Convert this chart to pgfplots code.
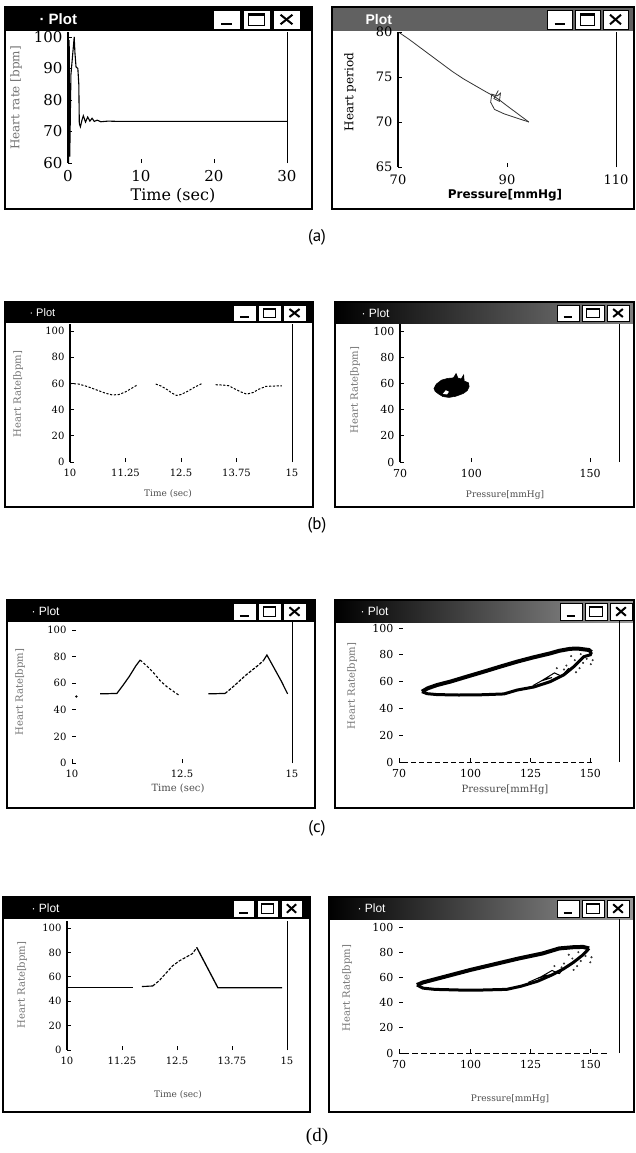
\documentclass[border=0pt]{standalone}
\usepackage{fontspec}
\setmainfont{DejaVu Serif}
\newfontfamily\winfont{Liberation Sans}
\newfontfamily\capfont{PT Sans}
\newfontfamily\dsans{DejaVu Sans}
\newfontfamily\tserif{Liberation Serif}
\usepackage{pgfplots}
\pgfplotsset{compat=1.18}

\newcommand\fs[1]{\fontsize{#1}{#1}\selectfont}

\pgfplotsset{
  win/.style={scale only axis, clip=false, axis line style={draw=none},
    anchor=south west, tick align=inside, xtick pos=bottom, ytick pos=left,
    tick style={black, line width=0.7pt}, major tick length=4pt,
    xticklabel style={yshift=-4pt}, yticklabel style={xshift=-2pt},
    enlargelimits=false},
}

% window frame: x1 y1 x2 y2 title-bottom title-fill
\newcommand\win[6]{%
  \fill[white] (#1,#2) rectangle (#3,#4);
  \fill[#6] (#1,#2) rectangle (#3,#5);
  \draw[line width=1.2pt] (#1,#2) rectangle (#3,#4);
  \draw[line width=2.6pt] (#1,#4) -- (#3,#4);
}
% title buttons: x y w h gap
\newcommand\btns[5]{%
  \foreach \k in {0,1,2}{\fill[white,draw=black,line width=0.6pt] ({#1+\k*(#3+#5)},#2) rectangle ++(#3,#4);}
  \draw[line width=1.8pt] ({#1+0.3*#3},{#2+0.75*#4}) -- ({#1+0.7*#3},{#2+0.75*#4});
  \draw[line width=0.9pt] ({#1+#3+#5+0.22*#3},{#2+0.2*#4}) rectangle ({#1+#3+#5+0.78*#3},{#2+0.8*#4});
  \draw[line width=2pt] ({#1+#3+#5+0.22*#3},{#2+0.25*#4}) -- ({#1+#3+#5+0.78*#3},{#2+0.25*#4});
  \draw[line width=2pt] ({#1+2*(#3+#5)+0.28*#3},{#2+0.25*#4}) -- ({#1+2*(#3+#5)+0.72*#3},{#2+0.75*#4});
  \draw[line width=2pt] ({#1+2*(#3+#5)+0.28*#3},{#2+0.75*#4}) -- ({#1+2*(#3+#5)+0.72*#3},{#2+0.25*#4});
}

\begin{document}
\begin{tikzpicture}[x=1pt,y=-1pt]
\path (0,0) rectangle (634,1153);

% ---------------- windows ----------------
\win{5}{7}{312}{209}{31}{black}
\btns{213}{10}{27}{19}{3}
\node[anchor=west,text=white,font=\winfont\bfseries\fs{15}] at (36,19) {· Plot};
\win{332}{7}{634}{209}{31}{black!62}
\btns{547}{10}{25}{19}{3}
\node[anchor=west,text=white,font=\winfont\bfseries\fs{14}] at (362,19) {Plot};

\win{5}{302}{313}{507}{323}{black}
\btns{233}{305}{23}{16}{2}
\node[anchor=west,text=white,font=\winfont\fs{11}] at (26,313) {· Plot};
\win{335}{302}{634}{507}{323}{left color=black,right color=black!50}
\btns{557}{305}{22}{16}{3}
\node[anchor=west,text=white,font=\winfont\fs{12}] at (358,313) {· Plot};

\win{7}{600}{315}{808}{622}{black}
\btns{233}{603}{23}{17}{2}
\node[anchor=west,text=white,font=\winfont\fs{12}] at (28,611) {· Plot};
\win{335}{600}{634}{808}{622}{left color=black,right color=black!40}
\btns{560}{603}{22}{17}{3}
\node[anchor=west,text=white,font=\winfont\fs{12}] at (357,611) {· Plot};

\win{3}{897}{310}{1112}{919}{black}
\btns{233}{900}{21}{17}{3}
\node[anchor=west,text=white,font=\winfont\fs{12}] at (28,908) {· Plot};
\win{329}{897}{634}{1112}{919}{left color=black,right color=black!40}
\btns{557}{900}{22}{17}{3}
\node[anchor=west,text=white,font=\winfont\fs{12}] at (354,908) {· Plot};

% ---------------- (a) left ----------------
\begin{axis}[win, at={(68pt,-163pt)}, width=219pt, height=126pt,
  xmin=0, xmax=30, ymin=60, ymax=100,
  xtick={0,10,20,30}, xticklabels={0,10,20,30},
  ytick={60,70,80,90,100}, yticklabels={60,70,80,90,100},
  tick label style={font=\fs{15}}]
  \draw[line width=2pt] (rel axis cs:0,0) -- (rel axis cs:0,1.04);
  \draw[line width=0.8pt] (rel axis cs:1,0) -- (rel axis cs:1,1.04);
  \addplot[black, line width=1.1pt] coordinates {
    (0,100) (0.08,60) (0.16,99) (0.24,62) (0.4,88) (0.85,100) (0.95,95)
    (1.1,90.5) (1.35,90) (1.48,85) (1.55,72.5) (1.7,71.5) (1.9,73.5)
    (2.1,75) (2.4,73) (2.7,74.6) (3.0,73.3) (3.3,74.2) (3.6,73.2)
    (4.0,73.6) (4.5,73.1) (5.5,73.3) (7,73.2) (30,73.2)};
\end{axis}
\node[rotate=90,text=black!55,font=\fs{12}] at (16,98) {Heart rate [bpm]};
\node[font=\fs{16}] at (173,196) {Time (sec)};

% ---------------- (a) right ----------------
\begin{axis}[win, at={(398pt,-167pt)}, width=218pt, height=135pt,
  xmin=70, xmax=110, ymin=65, ymax=80,
  xtick={70,90,110}, xticklabels={70,90,110},
  ytick={65,70,75,80}, yticklabels={65,70,75,80},
  tick label style={font=\fs{13}}]
  \draw[line width=1.6pt] (rel axis cs:0,0) -- (rel axis cs:0,1);
  \draw[line width=0.8pt] (rel axis cs:1,0) -- (rel axis cs:1,1);
  \addplot[black!80, line width=0.8pt] coordinates {
    (70.3,79.9) (72,79.2) (74,78.3) (76,77.4) (78,76.5) (80,75.6) (82,74.8)
    (84,74.1) (86,73.4) (87.5,72.9) (88.5,72.5) (90,71.8) (92,70.9) (94,70)};
  \addplot[black!80, line width=0.8pt] coordinates {
    (94,70) (92,70.4) (89.5,70.9) (87.7,71.4) (87,72.2) (87.2,73.1)
    (88.2,72.9) (88.8,73.2) (88.6,72.3) (87.6,72.6) (88.4,73.5)};
\end{axis}
\node[rotate=90,font=\fs{12}] at (350,92) {Heart period};
\node[font=\dsans\bfseries\fs{12}] at (505,195) {Pressure[mmHg]};

\node[font=\capfont\fs{17}] at (317,237) {(a)};

% ---------------- (b) left ----------------
\begin{axis}[win, at={(70pt,-462pt)}, width=222pt, height=131pt,
  xmin=10, xmax=15, ymin=0, ymax=100,
  xtick={10,11.25,12.5,13.75,15}, xticklabels={10,11.25,12.5,13.75,15},
  ytick={0,20,40,60,80,100}, yticklabels={0,20,40,60,80,100},
  tick label style={font=\fs{10}}]
  \draw[line width=1.6pt] (rel axis cs:0,0) -- (rel axis cs:0,1.05);
  \draw[line width=0.8pt] (rel axis cs:1,0) -- (rel axis cs:1,1.05);
  \addplot[black, line width=1pt, dash pattern=on 2.2pt off 1.6pt] coordinates {
    (10,60) (10.2,59.5) (10.4,57.5) (10.6,55) (10.8,52.5) (10.95,51.2)
    (11.1,51.5) (11.25,53.5) (11.4,56.5) (11.5,58.5)};
  \addplot[black, line width=1pt, dash pattern=on 2.2pt off 1.6pt] coordinates {
    (11.93,59.5) (12.05,58) (12.2,55) (12.3,52.5) (12.4,50.8) (12.5,51.5)
    (12.65,54) (12.8,57) (12.98,60)};
  \addplot[black, line width=1pt, dash pattern=on 2.2pt off 1.6pt] coordinates {
    (13.28,59) (13.45,58.7) (13.57,58.3) (13.7,56) (13.85,53.5) (13.98,51.8)
    (14.12,53) (14.25,55.5) (14.41,57.7) (14.6,58) (14.77,58.2)};
\end{axis}
\node[rotate=90,text=black!55,font=\fs{10}] at (18,394) {Heart Rate[bpm]};
\node[text=black!70,font=\fs{9}] at (168,494) {Time (sec)};

% ---------------- (b) right ----------------
\begin{axis}[win, at={(400pt,-462pt)}, width=219pt, height=131pt,
  xmin=70, xmax=162.2, ymin=0, ymax=100,
  xtick={70,100,150}, xticklabels={70,100,150},
  ytick={0,20,40,60,80,100}, yticklabels={0,20,40,60,80,100},
  tick label style={font=\fs{11}}]
  \draw[line width=1.6pt] (rel axis cs:0,0) -- (rel axis cs:0,1.05);
  \draw[line width=0.8pt] (rel axis cs:1,0) -- (rel axis cs:1,1.05);
  \addplot[fill=black, draw=black, line width=0.6pt] coordinates {
    (84.3,56.1) (85.3,59.5) (87.5,62.5) (90,63.8) (92.5,64.2) (93.6,67.5)
    (94.4,64) (95.8,63.4) (96.8,66.5) (97,61.8) (98.8,60.5) (99.1,57.5)
    (98.3,54.5) (96.6,52.3) (93.5,50.2) (90.6,49.3) (88,50) (86.2,52)
    (84.8,54)} -- cycle;
  \addplot[fill=white, draw=none] coordinates {
    (88,52) (89.3,54.8) (90.6,53.6) (89.8,51.6)} -- cycle;
\end{axis}
\node[rotate=90,text=black!55,font=\fs{10}] at (355,390) {Heart Rate[bpm]};
\node[text=black!70,font=\fs{9}] at (505,495) {Pressure[mmHg]};

\node[font=\capfont\fs{17}] at (317,525) {(b)};

% ---------------- (c) left ----------------
\begin{axis}[win, at={(72pt,-763pt)}, width=220pt, height=133pt,
  xmin=10, xmax=15, ymin=0, ymax=100,
  xtick={10,12.5,15}, xticklabels={10,12.5,15},
  ytick={0,20,40,60,80,100}, yticklabels={0,20,40,60,80,100},
  tick label style={font=\fs{10}}]
  \draw[line width=0.8pt] (rel axis cs:1,0) -- (rel axis cs:1,1.06);
  \addplot[only marks, mark=*, mark size=0.9pt] coordinates {(10.1,50)};
  \addplot[black, line width=1.2pt] coordinates {
    (10.64,52) (11.02,52.3) (11.15,58) (11.3,65) (11.45,73) (11.55,77.4)};
  \addplot[black, line width=1.1pt, dash pattern=on 2.5pt off 2pt] coordinates {
    (11.55,77.4) (11.7,73) (11.85,68) (12.0,62) (12.15,57.5) (12.3,54) (12.45,50.5)};
  \addplot[black, line width=1.2pt] coordinates {(13.1,52) (13.48,52.3)};
  \addplot[black, line width=1.2pt, dash pattern=on 3pt off 1.5pt] coordinates {
    (13.48,52.3) (13.65,57) (13.8,61.5) (13.95,66) (14.1,70) (14.25,74) (14.35,77)};
  \addplot[black, line width=1.2pt] coordinates {
    (14.35,77) (14.43,81.2) (14.6,71) (14.75,62) (14.9,52)};
\end{axis}
\node[rotate=90,text=black!55,font=\fs{10}] at (20,692) {Heart Rate[bpm]};
\node[text=black!70,font=\fs{10}] at (178,788) {Time (sec)};

% ---------------- (c) right ----------------
\begin{axis}[win, at={(399pt,-762pt)}, width=220pt, height=134pt,
  xmin=70, xmax=162, ymin=0, ymax=100,
  xtick={100,125,150}, xticklabels={100,125,150},
  extra x ticks={70}, extra x tick labels={70},
  ytick={0,20,40,60,80,100}, yticklabels={0,20,40,60,80,100},
  tick label style={font=\fs{11}}]
  \draw[line width=0.8pt] (rel axis cs:1,0) -- (rel axis cs:1,1.06);
  \draw[line width=0.8pt, dash pattern=on 5pt off 3pt] (rel axis cs:0.02,0) -- (rel axis cs:0.88,0);
  \addplot[black, line width=4pt] coordinates {
    (79.6,52.5) (82,55) (86,57.5) (91.5,60) (98,63.5) (105.4,67.4) (112,71)
    (119.4,74.9) (126,78) (133.3,81.1) (137,83) (141.7,84.5) (145,84.6)
    (149.4,83.6) (150.5,82)};
  \addplot[black, line width=3pt] coordinates {
    (79.6,52.5) (81.7,51) (86,50.3) (95,50) (105,50.2) (113.9,50.8) (119.4,53.7)
    (126.4,56) (133.3,60) (138.9,65) (143,71) (147.3,78.6) (150,80) (150.5,82)};
  \addplot[black, line width=1pt] coordinates {
    (126,57) (131,62) (134,63) (129.5,60.5) (135,66.5) (138,64) (141,70)};
  \addplot[only marks, mark=*, mark size=0.8pt, black!80] coordinates {
    (140,72) (143.5,76) (145.5,70) (147,74) (148.5,77) (146,80.5) (142,79)
    (150.2,73) (144,67) (139,69) (151,76) (136,70)};
\end{axis}
\node[rotate=90,text=black!55,font=\fs{10}] at (352,686) {Heart Rate[bpm]};
\node[text=black!70,font=\fs{10}] at (505,790) {Pressure[mmHg]};

\node[font=\capfont\fs{17}] at (317,828) {(c)};

% ---------------- (d) left ----------------
\begin{axis}[win, at={(67pt,-1050pt)}, width=220pt, height=122pt,
  xmin=10, xmax=15, ymin=0, ymax=100,
  xtick={10,11.25,12.5,13.75,15}, xticklabels={10,11.25,12.5,13.75,15},
  ytick={0,20,40,60,80,100}, yticklabels={0,20,40,60,80,100},
  tick label style={font=\fs{10}}]
  \draw[line width=1.6pt] (rel axis cs:0,0) -- (rel axis cs:0,1.06);
  \draw[line width=0.8pt] (rel axis cs:1,0) -- (rel axis cs:1,1.06);
  \addplot[black, line width=1.1pt] coordinates {(10,51) (11.5,51)};
  \addplot[black, line width=1.1pt] coordinates {(11.7,52) (11.95,52.5)};
  \addplot[black, line width=1.1pt, dash pattern=on 3pt off 1.5pt] coordinates {
    (11.95,52.5) (12.1,57) (12.25,63) (12.4,69) (12.55,73) (12.7,76) (12.85,79) (12.95,84)};
  \addplot[black, line width=1.3pt] coordinates {(12.95,84) (13.43,51) (14.89,51)};
\end{axis}
\node[rotate=90,text=black!55,font=\fs{10}] at (22,985) {Heart Rate[bpm]};
\node[text=black!70,font=\fs{9}] at (178,1095) {Time (sec)};

% ---------------- (d) right ----------------
\begin{axis}[win, at={(399pt,-1053pt)}, width=220pt, height=126pt,
  xmin=70, xmax=162, ymin=0, ymax=100,
  xtick={100,125,150}, xticklabels={100,125,150},
  extra x ticks={70}, extra x tick labels={70},
  ytick={0,20,40,60,80,100}, yticklabels={0,20,40,60,80,100},
  tick label style={font=\fs{11}}]
  \draw[line width=0.8pt] (rel axis cs:1,0) -- (rel axis cs:1,1.06);
  \draw[line width=0.8pt, dash pattern=on 6pt off 3pt] (rel axis cs:0.02,0) -- (rel axis cs:0.95,0);
  \addplot[black, line width=4pt] coordinates {
    (77.5,54) (80,56) (85,58.5) (90,61) (100,66) (110,70.5) (120,75) (130,79)
    (137,83) (143,84) (147,84.2) (149.5,83)};
  \addplot[black, line width=3pt] coordinates {
    (77.5,54) (80,51.5) (85,50.5) (95,50) (105,50) (115,50.5) (121,53)
    (128,57) (134,62) (139,67) (143,72) (147,78) (149.5,83)};
  \addplot[black, line width=1pt] coordinates {
    (124,56) (130,61) (133,62) (128.5,59.5) (134,65.5) (137,63) (140,69)};
  \addplot[only marks, mark=*, mark size=0.8pt, black!80] coordinates {
    (139,71) (142.5,75) (144.5,69) (146,73) (148,77) (145,80) (141,78)
    (150,72) (143,66) (138,68) (150.5,76) (135,69)};
\end{axis}
\node[rotate=90,text=black!55,font=\fs{10}] at (347,988) {Heart Rate[bpm]};
\node[text=black!70,font=\fs{9}] at (510,1099) {Pressure[mmHg]};

\node[font=\tserif\fs{19}] at (317,1137) {(d)};
\end{tikzpicture}
\end{document}
